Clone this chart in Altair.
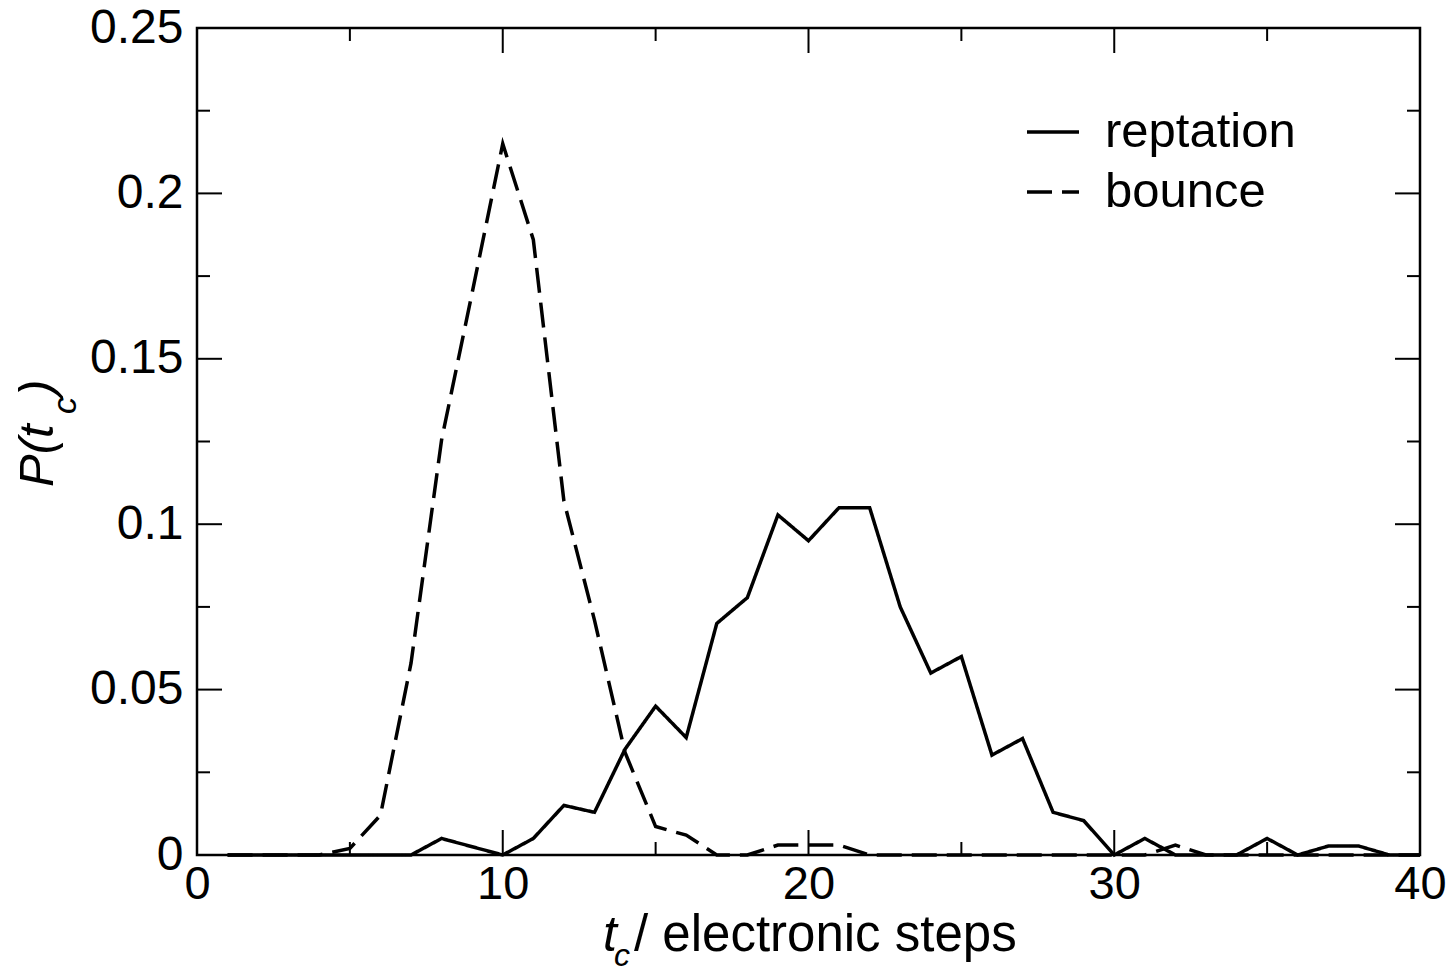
import altair as alt
import pandas as pd

# ---- data ----
t_steps = list(range(1, 41))
reptation = [0, 0, 0, 0, 0, 0, 0, 0.005, 0.0025, 0,
             0.005, 0.015, 0.0129, 0.032, 0.045, 0.0355, 0.07, 0.0778, 0.1028, 0.095,
             0.105, 0.105, 0.075, 0.055, 0.06, 0.0302, 0.0352, 0.0129, 0.0104, 0,
             0.005, 0, 0, 0, 0.005, 0, 0.0027, 0.0027, 0, 0]
bounce = [0, 0, 0, 0, 0.002, 0.012, 0.058, 0.1255, 0.17, 0.215,
          0.186, 0.107, 0.071, 0.031, 0.0086, 0.006, 0, 0, 0.003, 0.003,
          0.003, 0, 0, 0, 0, 0, 0, 0, 0, 0,
          0, 0.003, 0, 0, 0, 0, 0, 0, 0, 0]
series_names = ["reptation", "bounce"]

x_major = [0, 10, 20, 30, 40]
x_minor = [5, 15, 25, 35]
y_major = [0, 0.05, 0.1, 0.15, 0.2, 0.25]
y_minor = [0.025, 0.075, 0.125, 0.175, 0.225]

W, H = 1223, 827
FONT = "Liberation Sans"
MAJ, MIN = 25, 13

df = pd.DataFrame({
    "t": t_steps * 2,
    "P": reptation + bounce,
    "series": ["reptation"] * len(t_steps) + ["bounce"] * len(t_steps),
})

xs = alt.Scale(domain=[0, 40], nice=False, zero=False)
ys = alt.Scale(domain=[0, 0.25], nice=False)

x_axis = alt.Axis(values=x_major, title=None, labelFontSize=47, labelFont=FONT,
                  labelColor="black", labelPadding=6, domain=False, ticks=False,
                  grid=False, labelFlush=False, labelOverlap=False)
y_axis = alt.Axis(values=y_major, format="~g", title=None, labelFontSize=48,
                  labelFont=FONT, labelColor="black", labelPadding=14, domain=False,
                  ticks=False, grid=False, labelFlush=False, labelOverlap=False)

lines = alt.Chart(df).mark_line(color="black", strokeWidth=3.5).encode(
    x=alt.X("t:Q", scale=xs, axis=x_axis),
    y=alt.Y("P:Q", scale=ys, axis=y_axis),
    strokeDash=alt.StrokeDash("series:N", sort=series_names,
        scale=alt.Scale(domain=series_names, range=[[1, 0], [25, 10]]),
        legend=alt.Legend(title=None, orient="none", legendX=828, legendY=76,
                          symbolType="stroke", symbolSize=2704, symbolStrokeWidth=3.5,
                          symbolStrokeColor="black", labelFontSize=49, labelFont=FONT,
                          labelColor="black", labelOffset=24, labelLimit=0,
                          rowPadding=7, padding=0)),
    order=alt.Order("t:Q"),
)

def xticks(vals, length, top):
    d = pd.DataFrame({"t": vals})
    y0, y1 = (0, length) if top else (H, H - length)
    return alt.Chart(d).mark_rule(color="black", strokeWidth=2).encode(
        x=alt.X("t:Q", scale=xs, axis=x_axis), y=alt.value(y0), y2=alt.value(y1))

def yticks(vals, length, right):
    d = pd.DataFrame({"P": vals})
    x0, x1 = (W, W - length) if right else (0, length)
    return alt.Chart(d).mark_rule(color="black", strokeWidth=2).encode(
        y=alt.Y("P:Q", scale=ys, axis=y_axis), x=alt.value(x0), x2=alt.value(x1))

ticks = [
    xticks(x_major, MAJ, False), xticks(x_minor, MIN, False),
    xticks(x_major, MAJ, True), xticks(x_minor, MIN, True),
    yticks(y_major, MAJ, False), yticks(y_minor, MIN, False),
    yticks(y_major, MAJ, True), yticks(y_minor, MIN, True),
]

one = pd.DataFrame({"k": [0]})

def label(text, x, y, size, italic=False, angle=0):
    kw = dict(text=text, fontSize=size, font=FONT, color="black", align="left",
              baseline="alphabetic", angle=angle)
    if italic:
        kw["fontStyle"] = "italic"
    return alt.Chart(one).mark_text(**kw).encode(x=alt.value(x), y=alt.value(y))

titles = [
    label("t", 406, 923, 50, italic=True),
    label("c", 417, 938, 32, italic=True),
    label("/ electronic steps", 437, 923, 51),
    label("P(t", -144, 459, 49, italic=True, angle=270),
    label("c", -121, 386, 34, italic=True, angle=270),
    label(")", -144, 368, 49, italic=True, angle=270),
]

chart = alt.layer(lines, *ticks, *titles).properties(
    width=W, height=H,
    autosize=alt.AutoSizeParams(type="none"),
    padding={"left": 197, "top": 28, "right": 35, "bottom": 119},
    background="white",
).configure_view(stroke="black", strokeWidth=2.5)

chart.save("out.html", embed_options={"renderer": "svg", "actions": False})
